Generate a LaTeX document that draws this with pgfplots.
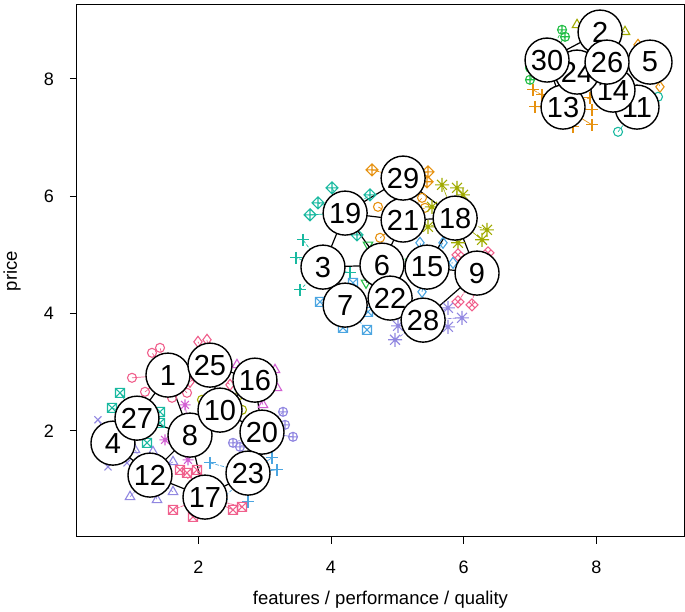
\documentclass[border=0pt]{standalone}
\usepackage{fontspec}
\setmainfont{Liberation Sans}
\usepackage{pgfplots}
\pgfplotsset{compat=1.18}
\usetikzlibrary{calc}
\definecolor{cpink}{RGB}{240,95,140}
\definecolor{clav}{RGB}{145,135,225}
\definecolor{cmag}{RGB}{210,95,210}
\definecolor{cteal}{RGB}{25,185,160}
\definecolor{cblue}{RGB}{75,165,225}
\definecolor{colive}{RGB}{160,170,0}
\definecolor{corange}{RGB}{230,145,15}
\definecolor{cgreen}{RGB}{35,190,70}
\pgfdeclareplotmark{sqx}{%
 \pgfpathrectangle{\pgfqpoint{-\pgfplotmarksize}{-\pgfplotmarksize}}{\pgfqpoint{2\pgfplotmarksize}{2\pgfplotmarksize}}%
 \pgfpathmoveto{\pgfqpoint{-\pgfplotmarksize}{-\pgfplotmarksize}}\pgfpathlineto{\pgfqpoint{\pgfplotmarksize}{\pgfplotmarksize}}%
 \pgfpathmoveto{\pgfqpoint{-\pgfplotmarksize}{\pgfplotmarksize}}\pgfpathlineto{\pgfqpoint{\pgfplotmarksize}{-\pgfplotmarksize}}%
 \pgfusepathqstroke}
\pgfdeclareplotmark{dplus}{%
 \pgfpathmoveto{\pgfqpoint{0pt}{\pgfplotmarksize}}\pgfpathlineto{\pgfqpoint{\pgfplotmarksize}{0pt}}%
 \pgfpathlineto{\pgfqpoint{0pt}{-\pgfplotmarksize}}\pgfpathlineto{\pgfqpoint{-\pgfplotmarksize}{0pt}}\pgfpathclose
 \pgfpathmoveto{\pgfqpoint{0pt}{\pgfplotmarksize}}\pgfpathlineto{\pgfqpoint{0pt}{-\pgfplotmarksize}}%
 \pgfpathmoveto{\pgfqpoint{-\pgfplotmarksize}{0pt}}\pgfpathlineto{\pgfqpoint{\pgfplotmarksize}{0pt}}%
 \pgfusepathqstroke}
\pgfdeclareplotmark{dx}{%
 \pgfpathmoveto{\pgfqpoint{0pt}{\pgfplotmarksize}}\pgfpathlineto{\pgfqpoint{\pgfplotmarksize}{0pt}}%
 \pgfpathlineto{\pgfqpoint{0pt}{-\pgfplotmarksize}}\pgfpathlineto{\pgfqpoint{-\pgfplotmarksize}{0pt}}\pgfpathclose
 \pgfpathmoveto{\pgfqpoint{-.5\pgfplotmarksize}{-.5\pgfplotmarksize}}\pgfpathlineto{\pgfqpoint{.5\pgfplotmarksize}{.5\pgfplotmarksize}}%
 \pgfpathmoveto{\pgfqpoint{-.5\pgfplotmarksize}{.5\pgfplotmarksize}}\pgfpathlineto{\pgfqpoint{.5\pgfplotmarksize}{-.5\pgfplotmarksize}}%
 \pgfusepathqstroke}
\pgfdeclareplotmark{star8}{%
 \pgfpathmoveto{\pgfqpoint{0pt}{\pgfplotmarksize}}\pgfpathlineto{\pgfqpoint{0pt}{-\pgfplotmarksize}}%
 \pgfpathmoveto{\pgfqpoint{-\pgfplotmarksize}{0pt}}\pgfpathlineto{\pgfqpoint{\pgfplotmarksize}{0pt}}%
 \pgfpathmoveto{\pgfqpoint{-.707\pgfplotmarksize}{-.707\pgfplotmarksize}}\pgfpathlineto{\pgfqpoint{.707\pgfplotmarksize}{.707\pgfplotmarksize}}%
 \pgfpathmoveto{\pgfqpoint{-.707\pgfplotmarksize}{.707\pgfplotmarksize}}\pgfpathlineto{\pgfqpoint{.707\pgfplotmarksize}{-.707\pgfplotmarksize}}%
 \pgfusepathqstroke}
\pgfplotsset{grp/.style={#1, densely dashed, line width=0.7pt, mark size=4.5pt, mark options={solid, line width=1.1pt}}}
\begin{document}
\begin{tikzpicture}
\begin{axis}[
  scale only axis, width=607pt, height=532pt,
  xmin=0.172, xmax=9.32, ymin=0.19, ymax=9.26,
  xtick={2,4,6,8}, ytick={2,4,6,8},
  tick align=outside, major tick length=7pt,
  xtick pos=bottom, ytick pos=left,
  axis line style={line width=1pt}, every tick/.style={black, line width=1pt},
  /pgf/number format/assume math mode=true,
  ticklabel style={font=\fontsize{18}{18}\selectfont},
  xticklabel style={anchor=center, yshift=-23pt},
  yticklabel style={anchor=center, xshift=-21pt},
  xlabel={features / performance / quality},
  ylabel={price},
  label style={font=\fontsize{18.5}{18.5}\selectfont},
  xlabel style={at={(rel axis cs:0.5,-0.118)}, anchor=center},
  ylabel style={at={(rel axis cs:-0.107,0.5)}, anchor=center},
  clip=false,
]
% --- cluster 1 ---
\addplot[grp=cpink, mark=o] coordinates {(1.543,2.950)(1.423,3.415)(1.543,2.950)(1.302,3.330)(1.543,2.950)(1.001,2.904)(1.543,2.950)(1.197,2.665)(1.543,2.950)(1.604,2.563)(1.543,2.950)(1.830,2.648)};
\addplot[grp=cpink, mark=diamond, mark size=5.5pt] coordinates {(2.176,3.120)(1.995,3.517)(2.176,3.120)(2.131,3.552)(2.176,3.120)(1.875,2.835)(2.176,3.120)(2.478,2.784)};
\addplot[grp=cmag, mark=triangle, mark size=5.5pt] coordinates {(2.854,2.864)(2.583,3.125)(2.854,2.864)(3.186,2.733)(2.854,2.864)(2.975,2.443)(2.854,2.864)(3.156,3.040)};
\addplot[grp=cteal, mark=sqx] coordinates {(1.076,2.216)(0.820,2.648)(1.076,2.216)(0.699,2.392)(1.076,2.216)(1.423,2.324)(1.076,2.216)(1.423,2.136)(1.076,2.216)(1.227,1.795)};
\addplot[grp=clav, mark=x, mark size=5pt] coordinates {(0.714,1.790)(0.488,2.188)(0.714,1.790)(0.639,1.386)(0.714,1.790)(0.925,1.454)};
\addplot[grp=clav, mark=triangle, mark size=5.5pt] coordinates {(1.272,1.245)(1.046,1.676)(1.272,1.245)(1.317,1.642)(1.272,1.245)(1.619,1.471)(1.272,1.245)(0.971,0.875)(1.272,1.245)(1.378,0.824)(1.272,1.245)(1.619,0.960)};
\addplot[grp=cmag, mark=star8, mark size=5.5pt] coordinates {(1.875,1.927)(1.800,2.443)(1.875,1.927)(1.498,1.847)(1.875,1.927)(1.845,1.506)};
\addplot[grp=colive, mark=o] coordinates {(2.327,2.353)(2.056,2.529)(2.327,2.353)(2.659,2.358)(2.327,2.353)(2.628,2.614)};
\addplot[grp=clav, mark=oplus] coordinates {(2.960,1.978)(3.277,2.324)(2.960,1.978)(3.427,1.898)(2.960,1.978)(2.523,1.795)(2.960,1.978)(2.628,1.727)(2.960,1.978)(3.307,2.102)};
\addplot[grp=cblue, mark=+, mark size=6pt] coordinates {(2.749,1.279)(2.176,1.454)(2.749,1.279)(3.186,1.335)(2.749,1.279)(2.749,0.789)(2.749,1.279)(3.111,1.540)(2.749,1.279)(2.357,0.824)};
\addplot[grp=cpink, mark=sqx] coordinates {(2.101,0.870)(1.830,1.284)(2.101,0.870)(1.980,1.335)(2.101,0.870)(2.523,0.653)(2.101,0.870)(2.659,0.704)(2.101,0.870)(1.920,0.534)(2.101,0.870)(1.619,0.653)(2.101,0.870)(1.724,1.335)};
% --- cluster 2 ---
\addplot[grp=corange, mark=dplus, mark size=6pt] coordinates {(5.087,6.309)(4.618,6.450)(5.087,6.309)(5.462,6.416)(5.087,6.309)(5.447,6.246)};
\addplot[grp=corange, mark=o] coordinates {(5.087,5.593)(4.708,5.819)(5.087,5.593)(4.739,5.291)(5.087,5.593)(5.372,5.973)(5.087,5.593)(5.417,5.802)};
\addplot[grp=cteal, mark=dplus, mark size=6pt] coordinates {(4.213,5.712)(4.015,6.143)(4.213,5.712)(3.804,5.887)(4.213,5.712)(3.684,5.683)(4.213,5.712)(4.588,6.024)(4.213,5.712)(4.392,5.342)};
\addplot[grp=cteal, mark=+, mark size=6pt] coordinates {(3.879,4.791)(3.578,5.257)(3.879,4.791)(3.472,4.950)(3.879,4.791)(4.286,4.694)(3.879,4.791)(3.533,4.404)};
\addplot[grp=cgreen, mark=triangle, mark size=5.5pt, mark options={solid, line width=1.1pt, rotate=180}] coordinates {(4.768,4.825)(4.558,5.171)(4.768,4.825)(4.528,4.523)(4.768,4.825)(5.191,4.881)};
\addplot[grp=colive, mark=star8, mark size=7pt] coordinates {(5.871,5.627)(5.673,6.194)(5.871,5.627)(5.899,6.143)(5.871,5.627)(5.989,6.024)(5.871,5.627)(5.522,5.819)(5.871,5.627)(5.462,5.478)(5.871,5.627)(6.351,5.427)(5.871,5.627)(6.276,5.257)(5.871,5.627)(5.914,5.206)};
\addplot[grp=cblue, mark=diamond, mark size=5.5pt] coordinates {(5.447,4.791)(5.839,4.864)(5.447,4.791)(5.372,4.370)(5.447,4.791)(5.341,5.206)(5.447,4.791)(5.688,5.206)};
\addplot[grp=cpink, mark=dx, mark size=6pt] coordinates {(6.201,4.689)(5.914,5.001)(6.201,4.689)(6.366,5.035)(6.201,4.689)(5.914,4.199)(6.201,4.689)(6.125,4.148)};
\addplot[grp=clav, mark=star8, mark size=7pt] coordinates {(5.388,3.887)(5.763,4.097)(5.388,3.887)(5.974,3.927)(5.388,3.887)(5.763,3.773)(5.388,3.887)(4.965,3.552)(5.388,3.887)(5.010,3.790)(5.388,3.887)(5.462,3.637)};
\addplot[grp=cblue, mark=sqx] coordinates {(4.213,4.143)(3.834,4.199)(4.213,4.143)(4.558,4.029)(4.213,4.143)(4.543,3.722)(4.213,4.143)(4.181,3.756)(4.213,4.143)(4.332,4.523)};
% --- cluster 3 ---
\addplot[grp=cgreen, mark=oplus] coordinates {(7.256,8.321)(7.482,8.837)(7.256,8.321)(7.527,8.718)(7.256,8.321)(6.999,7.985)(7.256,8.321)(6.999,8.189)};
\addplot[grp=colive, mark=triangle, mark size=5.5pt] coordinates {(8.055,8.798)(7.708,8.922)(8.055,8.798)(8.431,8.803)};
\addplot[grp=corange, mark=diamond, mark size=5.5pt] coordinates {(8.808,8.286)(8.627,8.581)(8.808,8.286)(8.958,7.865)};
\addplot[grp=corange, mark=+, mark size=6pt] coordinates {(7.497,7.519)(7.045,7.814)(7.497,7.519)(7.180,7.729)(7.497,7.519)(7.075,7.524)(7.497,7.519)(7.647,7.183)(7.497,7.519)(7.934,7.473)(7.497,7.519)(7.934,7.217)(7.497,7.519)(7.904,7.678)};
\addplot[grp=cteal, mark=o] coordinates {(8.612,7.519)(8.928,7.695)(8.612,7.519)(8.326,7.098)};
% --- edges ---
\addplot[black, line width=1.2pt, unbounded coords=jump, no marks] coordinates {
(1.543,2.950)(1.076,2.216)(nan,nan)
(1.543,2.950)(2.176,3.120)(nan,nan)
(1.543,2.950)(1.875,1.927)(nan,nan)
(1.076,2.216)(1.875,1.927)(nan,nan)
(1.076,2.216)(0.714,1.790)(nan,nan)
(0.714,1.790)(1.272,1.245)(nan,nan)
(1.875,1.927)(1.272,1.245)(nan,nan)
(1.875,1.927)(2.101,0.870)(nan,nan)
(1.875,1.927)(2.327,2.353)(nan,nan)
(1.272,1.245)(2.101,0.870)(nan,nan)
(2.101,0.870)(2.749,1.279)(nan,nan)
(2.749,1.279)(2.960,1.978)(nan,nan)
(2.327,2.353)(2.960,1.978)(nan,nan)
(2.327,2.353)(2.854,2.864)(nan,nan)
(2.176,3.120)(2.854,2.864)(nan,nan)
(2.176,3.120)(2.327,2.353)(nan,nan)
(2.854,2.864)(2.960,1.978)(nan,nan)
(5.087,6.309)(4.213,5.712)(nan,nan)
(5.087,6.309)(5.871,5.627)(nan,nan)
(5.087,6.309)(5.087,5.593)(nan,nan)
(4.213,5.712)(5.087,5.593)(nan,nan)
(5.087,5.593)(5.871,5.627)(nan,nan)
(4.213,5.712)(3.879,4.791)(nan,nan)
(4.213,5.712)(4.768,4.825)(nan,nan)
(3.879,4.791)(4.768,4.825)(nan,nan)
(3.879,4.791)(4.213,4.143)(nan,nan)
(4.768,4.825)(5.087,5.593)(nan,nan)
(4.768,4.825)(5.447,4.791)(nan,nan)
(4.768,4.825)(4.891,4.263)(nan,nan)
(4.213,4.143)(4.891,4.263)(nan,nan)
(4.891,4.263)(5.388,3.887)(nan,nan)
(5.447,4.791)(5.871,5.627)(nan,nan)
(5.447,4.791)(6.201,4.689)(nan,nan)
(5.871,5.627)(6.201,4.689)(nan,nan)
(6.201,4.689)(5.388,3.887)(nan,nan)
(7.256,8.321)(7.497,7.519)(nan,nan)
(7.256,8.321)(8.055,8.798)(nan,nan)
(8.160,8.286)(8.808,8.286)(nan,nan)
(8.250,7.809)(8.612,7.519)
};
% --- nodes ---
\addplot[only marks, mark=*, mark size=22pt,
  mark options={fill=white, draw=black, line width=1.4pt},
  nodes near coords, point meta=explicit symbolic,
  every node near coord/.style={anchor=center, inner sep=0pt, font=\fontsize{29}{29}\selectfont, text=black}]
  table[x=x, y=y, meta=lab] {
lab x y
1 1.543 2.950
2 8.055 8.798
3 3.879 4.791
4 0.714 1.790
5 8.808 8.286
6 4.768 4.825
7 4.213 4.143
8 1.875 1.927
9 6.201 4.689
10 2.327 2.353
11 8.612 7.519
12 1.272 1.245
13 7.497 7.519
14 8.250 7.809
15 5.447 4.791
16 2.854 2.864
17 2.101 0.870
18 5.871 5.627
19 4.213 5.712
20 2.960 1.978
21 5.087 5.593
22 4.891 4.263
23 2.749 1.279
24 7.708 8.116
25 2.176 3.120
26 8.160 8.286
27 1.076 2.216
28 5.388 3.887
29 5.087 6.309
30 7.256 8.321
};
\end{axis}
\path ($(current axis.south west)+(-77pt,-74pt)$) rectangle ($(current axis.north east)+(1pt,5pt)$);
\end{tikzpicture}
\end{document}
